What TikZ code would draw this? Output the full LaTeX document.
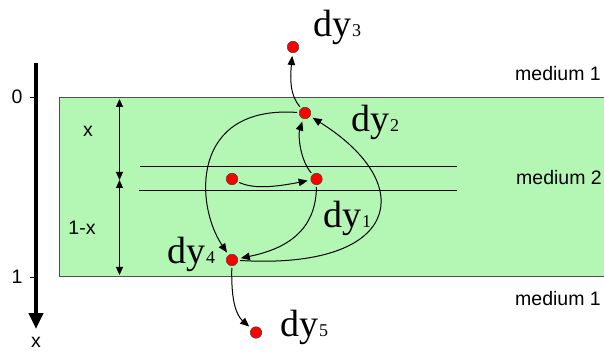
\documentclass[tikz,border=0pt]{standalone}
\usepackage{fontspec}
\setmainfont{Liberation Sans}
\newfontfamily\dyfont{Liberation Serif}
\usetikzlibrary{arrows.meta}
\definecolor{slab}{HTML}{B4F7B4}
\definecolor{dotred}{HTML}{FF0000}
\definecolor{slabline}{HTML}{505050}
\newcommand{\dylab}[1]{{\dyfont\fontsize{38}{38}\selectfont dy\kern1pt{\fontsize{18}{18}\selectfont #1}}}

\begin{document}
\begin{tikzpicture}[x=1pt, y=-1pt,
    dot/.style={circle, draw=black!75, fill=dotred, line width=0.5pt,
                minimum size=11.5pt, inner sep=0pt},
    dylabel/.style={anchor=base west, inner sep=0pt},
    plain/.style={font=\fontsize{19.5}{20}\selectfont, inner sep=0pt},
    flow/.style={-{Triangle[length=9pt,width=7.5pt]}, line width=1pt,
                 shorten >=3pt, shorten <=2pt},
    dim/.style={{Triangle[length=8pt,width=7pt]}-{Triangle[length=8pt,width=7pt]},
                line width=1pt}
]
\clip (0,0) rectangle (604,352);

% slab and thin layer
\draw[slabline, fill=slab, line width=0.8pt] (59,97) rectangle (640,276);
\draw[line width=1pt] (140,167) -- (457,167);
\draw[line width=1pt] (139,191) -- (457,191);

% depth axis
\coordinate (axtop) at (36,63);
\coordinate (axend) at (36,329);
\draw[line width=4pt, -{Triangle[length=16pt,width=14pt]}] (axtop) -- (axend);
\draw[line width=0.8pt] (30,97) -- (36,97);
\draw[line width=0.8pt] (30,277) -- (36,277);
\node[plain] (tick0) at (17,97) {0};
\node[plain] (tick1) at (17,277) {1};
\node[plain] (axlab) at (36,342) {x};

% thickness arrows
\coordinate (dtop) at (119.5,99);
\coordinate (dmid) at (119.5,180);
\coordinate (dbot) at (119.5,275);
\draw[dim] (dtop) -- (dmid);
\draw[dim] (dmid) -- (dbot);
\node[plain] (xlab) at (88,131) {x};
\node[plain] (onemx) at (82,228) {1-x};

% media
\node[plain, anchor=base west] (med1a) at (515,81) {medium 1};
\node[plain, anchor=base west] (med2) at (516,185) {medium 2};
\node[plain, anchor=base west] (med1b) at (515,305) {medium 1};

% points
\node[dot] (d0) at (232,179) {};
\node[dot] (d1) at (316.5,179) {};
\node[dot] (d2) at (305,113) {};
\node[dot] (d3) at (293,47) {};
\node[dot] (d4) at (232,260) {};
\node[dot] (d5) at (256,332.5) {};

\node[dylabel] (l1) at (323,228) {\dylab{1}};
\node[dylabel] (l2) at (351,132) {\dylab{2}};
\node[dylabel] (l3) at (313,37) {\dylab{3}};
\node[dylabel] (l4) at (167,263) {\dylab{4}};
\node[dylabel] (l5) at (280,336) {\dylab{5}};

% transitions
\draw[flow] (d0) .. controls (255,190) and (280,186) .. (d1);
\draw[flow] (d1) .. controls (300,160) and (298,135) .. (d2);
\draw[flow] (d2) .. controls (290,95) and (290,80) .. (d3);
\draw[flow] (d1) .. controls (316,235) and (280,250) .. (d4);
\draw[flow] (d2) .. controls (190,105) and (195,205) .. (d4);
\draw[flow] (d4) .. controls (400,270) and (420,185) .. (d2);
\draw[flow] (d4) .. controls (231,300) and (236,315) .. (d5);

\end{tikzpicture}
\end{document}
